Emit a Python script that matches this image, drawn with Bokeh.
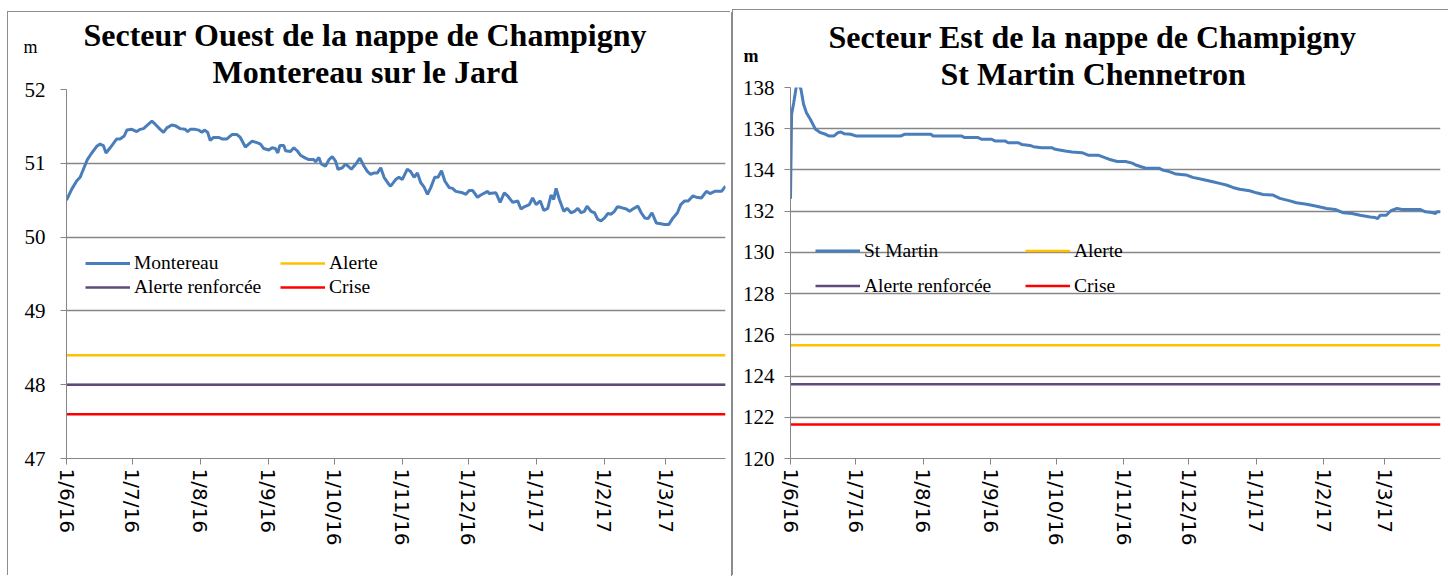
import pandas as pd
from bokeh.plotting import figure
from bokeh.models import FixedTicker, Legend, LegendItem, Range1d, Title
from bokeh.layouts import row
from bokeh.embed import file_html
from bokeh.resources import INLINE

START = pd.Timestamp("2016-06-01")

month_labels = ["1/6/16", "1/7/16", "1/8/16", "1/9/16", "1/10/16",
                "1/11/16", "1/12/16", "1/1/17", "1/2/17", "1/3/17"]

# ---- Secteur Ouest : Montereau sur le Jard ----
west_days = [0, 2.4, 4.6, 6.2, 7.7, 9.5, 11.5, 13.8, 15.3, 16.8, 18.0, 19.9, 21.4, 22.9, 24.4,
             26.3, 27.5, 29.8, 32.0, 33.6, 35.1, 36.6, 38.9, 40.4, 42.7, 44.2, 45.7, 48.0, 49.5,
             51.8, 54.1, 55.2, 56.4, 58.7, 60.2, 61.7, 62.8, 64.3, 65.5, 67.0, 69.3, 70.9, 73.1,
             75.4, 77.7, 79.2, 81.5, 83.0, 84.6, 86.8, 88.4, 89.9, 92.2, 93.7, 95.2, 96.3, 97.2,
             99.0, 99.8, 102.1, 103.6, 105.1, 106.6, 108.9, 110.4, 112.7, 113.5, 115.0, 116.1,
             118.0, 119.6, 121.1, 122.6, 123.7, 125.7, 127.2, 128.7, 129.8, 131.8, 133.7, 135.6,
             137.1, 138.6, 140.2, 141.7,
             143.2, 144.7, 147.0, 147.7, 150.0, 151.5, 153.0, 155.3, 156.8, 158.4, 159.9, 161.4,
             162.9, 164.5, 166.0, 167.8, 169.3, 170.9, 172.4, 174.4, 175.9, 177.4, 180.5, 182.0,
             183.5, 185.1, 187.3, 188.8, 191.9, 192.6, 195.7, 197.6, 199.5, 201.0, 203.3, 205.6,
             207.1, 208.6, 210.9, 212.4, 214.0, 215.9, 217.5, 219.3, 220.8, 222.0, 223.1, 224.6,
             226.6, 228.1, 229.9, 231.5, 233.0, 234.5, 236.0, 237.2, 239.0, 240.6, 242.1, 243.6,
             245.2, 246.7, 248.2, 249.7, 251.0, 252.8, 255.1, 256.6, 258.1, 260.4, 261.9, 263.5,
             265.0, 266.8, 268.8, 270.8, 272.6, 274.4, 276.4, 278.4, 279.9, 281.7, 283.3, 285.5,
             287.0, 289.3, 291.6, 293.2, 295.4, 298.5, 300.3]
west_level = [50.50, 50.65, 50.76, 50.81, 50.92, 51.05, 51.14, 51.23, 51.26, 51.24, 51.14, 51.21,
              51.27, 51.33, 51.33, 51.37, 51.45, 51.46, 51.43, 51.46, 51.47, 51.51, 51.57, 51.53,
              51.46, 51.42, 51.48, 51.52, 51.51, 51.47, 51.46, 51.43, 51.46, 51.46, 51.45, 51.42,
              51.45, 51.42, 51.31, 51.35, 51.35, 51.33, 51.33, 51.39, 51.39, 51.35, 51.22, 51.26,
              51.30, 51.28, 51.26, 51.20, 51.18, 51.21, 51.20, 51.14, 51.24, 51.24, 51.17, 51.16,
              51.21, 51.17, 51.11, 51.07, 51.05, 51.05, 51.02, 51.08, 50.99, 50.96, 51.05, 51.09,
              51.03, 50.92, 50.94, 50.99, 50.95, 50.92, 50.99, 51.07, 50.96, 50.89, 50.85, 50.87,
              50.87,
              50.94, 50.81, 50.71, 50.69, 50.78, 50.81, 50.78, 50.92, 50.89, 50.81, 50.87, 50.74,
              50.68, 50.58, 50.67, 50.81, 50.81, 50.90, 50.76, 50.67, 50.66, 50.62, 50.60, 50.58,
              50.63, 50.63, 50.54, 50.57, 50.62, 50.59, 50.60, 50.47, 50.60, 50.56, 50.47, 50.49,
              50.38, 50.41, 50.44, 50.53, 50.44, 50.49, 50.36, 50.39, 50.57, 50.51, 50.66, 50.51,
              50.35, 50.39, 50.33, 50.35, 50.39, 50.33, 50.35, 50.42, 50.35, 50.33, 50.24, 50.22,
              50.26, 50.32, 50.31, 50.35, 50.41, 50.40, 50.38, 50.35, 50.38, 50.42, 50.33, 50.26,
              50.25, 50.33, 50.19, 50.18, 50.17, 50.17, 50.26, 50.33, 50.44, 50.49, 50.49, 50.56,
              50.54, 50.53, 50.62, 50.59, 50.62, 50.62, 50.69]
west_alerte = 48.4
west_renforcee = 48.0
west_crise = 47.6
west_yticks = [47, 48, 49, 50, 51, 52]

# ---- Secteur Est : St Martin Chennetron ----
east_days = [0, 0.5, 1.5, 2.6, 3.0, 3.7, 4.8, 6.0, 7.3, 9.1, 11.5, 13.8, 16.1, 17.6, 20.0, 21.8,
             23.1, 24.6, 27.7, 30.0, 36.9, 50.8, 52.3, 64.6, 65.4, 78.5, 80.0, 86.2, 87.7, 92.4,
             93.9, 98.5, 100.0, 104.7, 106.2, 110.0, 111.6, 115.4, 120.0, 121.6, 126.2, 129.3,
             133.9, 137.0, 141.6, 144.7, 146.3, 150.1, 153.9, 157.0, 158.6, 163.2, 169.4, 170.9,
             174.0, 177.1, 181.7, 184.8, 189.4, 194.0, 197.1, 200.2, 203.2, 206.3, 210.9, 214.0,
             217.1, 221.7, 224.8, 229.4, 232.4, 237.1, 241.7, 246.3, 250.2, 254.0, 257.9, 261.7,
             266.3, 268.6, 269.7, 270.9, 273.7, 275.8, 278.6, 280.9, 284.7, 289.4, 291.7, 294.7,
             296.3, 297.0, 298.6]
east_level = [132.6, 136.7, 137.27, 138.0, 138.24, 138.16, 137.92, 137.19, 136.78, 136.46, 135.97,
              135.81, 135.73, 135.65, 135.65, 135.81, 135.84, 135.76, 135.73, 135.65, 135.65,
              135.65, 135.73, 135.73, 135.65, 135.65, 135.57, 135.57, 135.49, 135.49, 135.41,
              135.41, 135.32, 135.32, 135.24, 135.19, 135.13, 135.08, 135.08, 135.00, 134.92,
              134.87, 134.84, 134.71, 134.71, 134.59, 134.52, 134.41, 134.41, 134.33, 134.24,
              134.08, 134.08, 134.00, 133.92, 133.80, 133.76, 133.64, 133.54, 133.43, 133.35,
              133.27, 133.15, 133.06, 132.99, 132.89, 132.81, 132.78, 132.62, 132.50, 132.41,
              132.34, 132.24, 132.13, 132.08, 131.92, 131.89, 131.80, 131.72, 131.69, 131.64,
              131.80, 131.80, 132.02, 132.13, 132.08, 132.08, 132.08, 131.97, 131.93, 131.89,
              131.97, 131.97]
east_alerte = 125.5
east_renforcee = 123.6
east_crise = 121.65
east_yticks = list(range(120, 139, 2))

BLUE = "#4a7ebb"
GOLD = "#ffc000"
PURPLE = "#604a7b"
RED = "#ff0000"
GRID = "#868686"
SERIF = "Liberation Serif"


def to_dates(days):
    return list(START + pd.to_timedelta(pd.Series(days), unit="D"))


def make_chart(width, height, margin, borders, shadow, title1, title2, offsets, standoffs,
               days, level, name, alerte, renforcee, crise, yticks, ystandoff, m_offset,
               m_bold, legend_loc, legend_lw, legend_h):
    dates = to_dates(days)
    x0, x1 = dates[0], dates[-1]
    p = figure(width=width, height=height, x_axis_type="datetime",
               x_range=Range1d(x0, x1), y_range=Range1d(yticks[0], yticks[-1]),
               output_backend="svg", toolbar_location=None,
               min_border_left=borders[0], min_border_right=borders[1],
               min_border_top=borders[2], min_border_bottom=borders[3])
    p.margin = margin
    p.title.visible = False
    p.outline_line_color = None
    p.background_fill_color = "white"
    p.border_fill_color = "white"
    p.styles = {"box-shadow": shadow}

    r_main = p.line(dates, level, line_color=BLUE, line_width=3)
    r_al = p.line([x0, x1], [alerte, alerte], line_color=GOLD, line_width=2.5)
    r_rf = p.line([x0, x1], [renforcee, renforcee], line_color=PURPLE, line_width=2.5)
    r_cr = p.line([x0, x1], [crise, crise], line_color=RED, line_width=2.5)

    # axes
    p.yaxis.ticker = FixedTicker(ticks=yticks)
    p.yaxis.minor_tick_line_color = None
    p.yaxis.major_tick_out = 6
    p.yaxis.major_tick_in = 0
    p.yaxis.major_tick_line_color = GRID
    p.yaxis.axis_line_color = GRID
    p.yaxis.major_label_text_font = SERIF
    p.yaxis.major_label_text_font_size = "21px"
    p.yaxis.major_label_text_color = "black"
    p.yaxis.major_label_standoff = ystandoff

    mt = [pd.to_datetime(s, format="%d/%m/%y") for s in month_labels]
    ms = [float(t.value // 10**6) for t in mt]
    p.xaxis.ticker = FixedTicker(ticks=ms)
    p.xaxis.major_label_overrides = {v: s for v, s in zip(ms, month_labels)}
    p.xaxis.minor_tick_line_color = None
    p.xaxis.major_tick_out = 6
    p.xaxis.major_tick_in = 0
    p.xaxis.major_tick_line_color = GRID
    p.xaxis.axis_line_color = GRID
    p.xaxis.major_label_orientation = "vertical"
    p.xaxis.major_label_text_font = "DejaVu Sans"
    p.xaxis.major_label_text_font_size = "20px"
    p.xaxis.major_label_text_color = "black"
    p.xaxis.major_label_standoff = 4

    p.xgrid.grid_line_color = None
    p.ygrid.grid_line_color = GRID
    p.ygrid.grid_line_width = 1.5

    legend = Legend(items=[LegendItem(label=name, renderers=[r_main]),
                           LegendItem(label="Alerte", renderers=[r_al]),
                           LegendItem(label="Alerte renforcée", renderers=[r_rf]),
                           LegendItem(label="Crise", renderers=[r_cr])],
                    location=legend_loc, orientation="horizontal", ncols=2,
                    glyph_width=45, glyph_height=legend_h, label_height=legend_h,
                    label_width=legend_lw, label_standoff=4, spacing=0,
                    padding=0, margin=0, border_line_color=None,
                    background_fill_alpha=0,
                    label_text_font=SERIF, label_text_font_size="19.5px",
                    label_text_color="black")
    p.add_layout(legend, "center")

    # header: title line 2 (nearest the frame), unit "m", title line 1
    s2, s_m, s1 = standoffs
    p.add_layout(Title(text=title2, align="left", offset=offsets[1], standoff=s2,
                       text_font=SERIF, text_font_style="bold", text_font_size="32px",
                       text_color="black"), "above")
    p.add_layout(Title(text="m", align="left", offset=m_offset, standoff=s_m,
                       vertical_align="bottom",
                       text_font=SERIF, text_font_size="18px",
                       text_font_style="bold" if m_bold else "normal",
                       text_color="black"), "above")
    p.add_layout(Title(text=title1, align="left", offset=offsets[0], standoff=s1,
                       text_font=SERIF, text_font_style="bold", text_font_size="32px",
                       text_color="black"), "above")
    return p


left = make_chart(723, 564, (12, 0, 0, 8), (58, 6, 75, 118),
                  "-1px -1px 0 #8c8c8c, 1px 0 0 #8c8c8c",
                  "Secteur Ouest de la nappe de Champigny", "Montereau sur le Jard",
                  (17, 146), (0, -10, -26), west_days, west_level, "Montereau",
                  west_alerte, west_renforcee, west_crise, west_yticks, 15,
                  -43, False, (19, 159), 146, 24)
right = make_chart(716, 566, (10, 0, 0, 2), (57, 9, 77, 118),
                   "-1px -1px 0 #8c8c8c",
                   "Secteur Est de la nappe de Champigny", "St Martin Chennetron",
                   (38, 150), (-8, -16, -7), east_days, east_level, "St Martin",
                   east_alerte, east_renforcee, east_crise, east_yticks, 10,
                   -47, True, (25, 155), 161, 35)

layout = row(left, right)
open("out.html", "w").write(file_html(layout, INLINE))
